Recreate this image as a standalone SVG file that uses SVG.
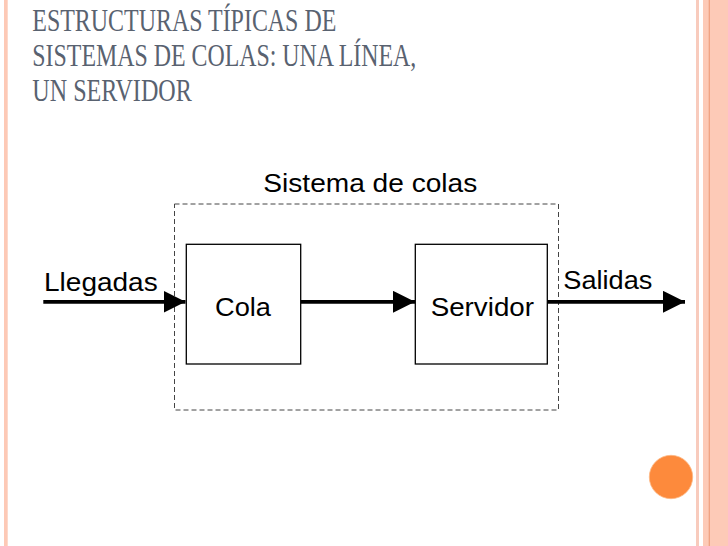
<svg xmlns="http://www.w3.org/2000/svg" width="728" height="546" viewBox="0 0 728 546">
  <defs>
    <style>
      .title { font-family: "Liberation Serif", "Times New Roman", serif; font-size: 31px; fill: #596270; }
      .lbl { font-family: "Liberation Sans", Arial, sans-serif; font-size: 26px; fill: #000; }
      .box { fill: #fff; stroke: #000; stroke-width: 1.3; }
      .conn { stroke: #000; stroke-width: 3.7; fill: none; }
    </style>
    <marker id="arrow" markerUnits="userSpaceOnUse" markerWidth="23" markerHeight="22" refX="22" refY="11" orient="auto">
      <path d="M0,0 L22,11 L0,22 Z" fill="#000"/>
    </marker>
  </defs>
  <rect width="728" height="546" fill="#fff"/>
  <g id="frame">
    <rect x="4" y="0" width="3.7" height="546" fill="#fdc9b6"/>
    <rect x="696" y="0" width="3" height="546" fill="#f8cbbd"/>
    <rect x="703" y="0" width="25" height="546" fill="#fdcab7"/>
    <rect x="708.7" y="0" width="1.2" height="546" fill="#ef9f7f"/>
    <circle cx="671" cy="477" r="21.7" fill="#fd8a3c" stroke="#fdb784" stroke-width="0.8"/>
  </g>
  <g id="title">
    <text class="title" x="32.3" y="30.7" textLength="304" lengthAdjust="spacingAndGlyphs">ESTRUCTURAS TÍPICAS DE</text>
    <text class="title" x="32.3" y="65.7" textLength="384" lengthAdjust="spacingAndGlyphs">SISTEMAS DE COLAS: UNA LÍNEA,</text>
    <text class="title" x="32.3" y="100.7" textLength="159.5" lengthAdjust="spacingAndGlyphs">UN SERVIDOR</text>
  </g>
  <g id="sistema">
    <rect x="174.5" y="204" width="384" height="206" fill="none" stroke="#444" stroke-width="1" stroke-dasharray="5,3"/>
    <text class="lbl" x="263.3" y="191.7" textLength="214" lengthAdjust="spacingAndGlyphs">Sistema de colas</text>
  </g>
  <g id="connectors">
    <line class="conn" x1="43.3" y1="301.8" x2="185.5" y2="301.8" marker-end="url(#arrow)"/>
    <line class="conn" x1="300.7" y1="301.8" x2="415" y2="301.8" marker-end="url(#arrow)"/>
    <line class="conn" x1="547.3" y1="301.8" x2="685" y2="301.8" marker-end="url(#arrow)"/>
    <text class="lbl" x="44" y="290.7" textLength="113.7" lengthAdjust="spacingAndGlyphs">Llegadas</text>
    <text class="lbl" x="563.3" y="289.3" textLength="89" lengthAdjust="spacingAndGlyphs">Salidas</text>
  </g>
  <g id="cola">
    <rect class="box" x="186.3" y="244.3" width="114.4" height="119.7"/>
    <text class="lbl" x="215" y="315.7" textLength="56" lengthAdjust="spacingAndGlyphs">Cola</text>
  </g>
  <g id="servidor">
    <rect class="box" x="415.3" y="244.3" width="132" height="119.7"/>
    <text class="lbl" x="430.7" y="315.7" textLength="103.3" lengthAdjust="spacingAndGlyphs">Servidor</text>
  </g>
</svg>
